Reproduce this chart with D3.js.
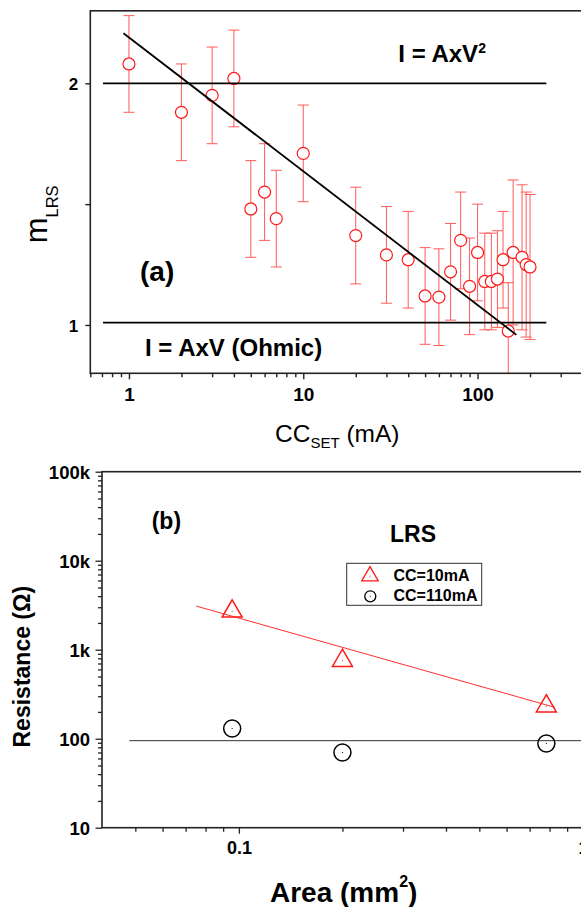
<!DOCTYPE html>
<html>
<head>
<meta charset="utf-8">
<script src="https://cdn.jsdelivr.net/npm/d3@7"></script>
<style>
  html, body { margin: 0; padding: 0; background: #fff; }
  svg { display: block; font-family: Arial, "Liberation Sans", sans-serif; }
</style>
</head>
<body>
<script>
// ---------- Panel (a) data ----------
const ccSet = [1, 2, 3, 4, 5, 6, 7, 10, 20, 30, 40, 50, 60, 70, 80, 90, 100, 110, 120, 130, 140, 150, 160, 180, 190, 200];
const mLRS  = [2.08, 1.88, 1.95, 2.02, 1.48, 1.55, 1.44, 1.71, 1.37, 1.29, 1.27, 1.12, 1.115, 1.22, 1.35, 1.16, 1.30, 1.18, 1.18, 1.19, 1.27, 0.975, 1.30, 1.28, 1.25, 1.24];
const mErr  = [0.2, 0.2, 0.2, 0.2, 0.2, 0.2, 0.2, 0.2, 0.2, 0.2, 0.2, 0.2, 0.2, 0.2, 0.2, 0.2, 0.2, 0.2, 0.2, 0.2, 0.2, 0.2, 0.3, 0.3, 0.3, 0.3];
const fitA  = [[0.93, 2.207], [167, 0.959]];
const refA  = [[[0.71, 2.0], [248, 2.0]], [[0.71, 1.01], [248, 1.01]]];
const xTicksAMajor = [1, 10, 100];
const xTicksAMinor = [0.6, 0.7, 0.8, 0.9, 2, 3, 4, 5, 6, 7, 8, 9, 20, 30, 40, 50, 60, 70, 80, 90, 200, 300, 400];
const yTicksA = [1, 1.5, 2];
const yTickLabelsA = ["1", "", "2"];

// ---------- Panel (b) data ----------
const area   = [0.0956, 0.2, 0.783];
const r10mA  = [2700, 752, 232];
const r110mA = [130, 70, 88.5];
const fit10  = [[0.0752, 3090], [0.829, 225]];
const fit110 = [[0.048, 95], [1.2, 95]];
const legendLabels = ["CC=10mA", "CC=110mA"];
const yTicksBMajor = [10, 100, 1000, 10000, 100000];
const yTickLabelsB = ["10", "100", "1k", "10k", "100k"];
const xTicksBMajor = [0.1, 1];
const xTickLabelsB = ["0.1", "1"];

const W = 581, H = 907;
const svg = d3.select("body").append("svg").attr("width", W).attr("height", H);
const AX = "#222";

function minorDecades(lo, hi) {
  const out = [];
  for (let p = lo; p < hi; p++) for (let k = 2; k <= 9; k++) out.push(k * Math.pow(10, p));
  return out;
}

// =================== Panel (a) ===================
const xA = d3.scaleLog().domain([0.6, 400]).range([90.3, 582.5]);
const yA = d3.scaleLinear().domain([0.8, 2.3]).range([373.3, 10.8]);
const gA = svg.append("g");

svg.append("clipPath").attr("id", "clipA").append("rect")
  .attr("x", xA.range()[0]).attr("y", yA.range()[1])
  .attr("width", xA.range()[1] - xA.range()[0]).attr("height", yA.range()[0] - yA.range()[1]);

const plotA = gA.append("g").attr("clip-path", "url(#clipA)");

// error bars
const ebColor = "#ff5a5a";
const eb = plotA.append("g").attr("stroke", ebColor).attr("stroke-width", 1);
ccSet.forEach((c, i) => {
  const x = xA(c), y1 = yA(mLRS[i] - mErr[i]), y2 = yA(mLRS[i] + mErr[i]);
  eb.append("line").attr("x1", x).attr("x2", x).attr("y1", y1).attr("y2", y2);
  eb.append("line").attr("x1", x - 5.5).attr("x2", x + 5.5).attr("y1", y1).attr("y2", y1);
  eb.append("line").attr("x1", x - 5.5).attr("x2", x + 5.5).attr("y1", y2).attr("y2", y2);
});
// circles
plotA.append("g").selectAll("circle").data(ccSet).join("circle")
  .attr("cx", d => xA(d)).attr("cy", (d, i) => yA(mLRS[i])).attr("r", 6)
  .attr("fill", "#fff").attr("stroke", "#ff1a1a").attr("stroke-width", 1.2);

// reference lines & fit
const lineA = d3.line().x(d => xA(d[0])).y(d => yA(d[1]));
refA.forEach(r => plotA.append("path").attr("d", lineA(r)).attr("stroke", "#000").attr("stroke-width", 1.8).attr("fill", "none"));
plotA.append("path").attr("d", lineA(fitA)).attr("stroke", "#000").attr("stroke-width", 1.8).attr("fill", "none");

// frame
gA.append("rect").attr("x", xA.range()[0]).attr("y", yA.range()[1])
  .attr("width", xA.range()[1] - xA.range()[0]).attr("height", yA.range()[0] - yA.range()[1])
  .attr("fill", "none").attr("stroke", AX).attr("stroke-width", 1.6);

// x axis (a)
const xAxisAMinor = gA.append("g").attr("transform", `translate(0,${yA.range()[0]})`)
  .call(d3.axisBottom(xA).tickValues(xTicksAMinor).tickSize(4).tickFormat(""));
const xAxisAMajor = gA.append("g").attr("transform", `translate(0,${yA.range()[0]})`)
  .call(d3.axisBottom(xA).tickValues(xTicksAMajor).tickSize(6).tickFormat(d3.format("~g")));
[xAxisAMinor, xAxisAMajor].forEach(g => {
  g.select(".domain").remove();
  g.selectAll("line").attr("stroke", AX).attr("stroke-width", 1.4);
});
xAxisAMajor.selectAll("text").attr("y", 27.4).attr("dy", null)
  .attr("font-size", 19).attr("font-weight", "bold").attr("fill", "#000").attr("font-family", null);

// y axis (a)
const yAxisA = gA.append("g").attr("transform", `translate(${xA.range()[0]},0)`)
  .call(d3.axisLeft(yA).tickValues(yTicksA).tickSize(5).tickFormat((d, i) => yTickLabelsA[i]));
yAxisA.select(".domain").remove();
yAxisA.selectAll("line").attr("stroke", AX).attr("stroke-width", 1.4);
yAxisA.selectAll("text").attr("x", -12).attr("dy", "0.36em")
  .attr("font-size", 17).attr("font-weight", "bold").attr("fill", "#000").attr("font-family", null);

// texts (a)
const tA1 = gA.append("text").attr("x", 398.3).attr("y", 61.7).attr("font-size", 24).attr("font-weight", "bold");
tA1.append("tspan").text("I = AxV");
tA1.append("tspan").attr("font-size", 14).attr("dy", -8.4).text("2");
gA.append("text").attr("x", 145).attr("y", 356).attr("font-size", 24).attr("font-weight", "bold").text("I = AxV (Ohmic)");
gA.append("text").attr("x", 140).attr("y", 281).attr("font-size", 28).attr("font-weight", "bold").text("(a)");

// axis labels (a)
const ylA = gA.append("text").attr("transform", "translate(46.7,243.3) rotate(-90)").attr("font-size", 31);
ylA.append("tspan").text("m");
ylA.append("tspan").attr("font-size", 16.5).attr("dy", 11.6).text("LRS");
const xlA = gA.append("text").attr("x", 275).attr("y", 441.7).attr("font-size", 24.5);
xlA.append("tspan").text("CC");
xlA.append("tspan").attr("font-size", 15).attr("dy", 6.6).text("SET");
xlA.append("tspan").attr("dy", -6.6).text(" (mA)");

// =================== Panel (b) ===================
const xB = d3.scaleLog().domain([0.04, 1.2]).range([102, 102 + 344 * Math.log10(30)]);
const yB = d3.scaleLog().domain([10, 100000]).range([827.7, 471.7]);
const gB = svg.append("g");

svg.append("clipPath").attr("id", "clipB").append("rect")
  .attr("x", xB.range()[0]).attr("y", yB.range()[1])
  .attr("width", xB.range()[1] - xB.range()[0]).attr("height", yB.range()[0] - yB.range()[1]);
const plotB = gB.append("g").attr("clip-path", "url(#clipB)");

const lineB = d3.line().x(d => xB(d[0])).y(d => yB(d[1]));
plotB.append("path").attr("d", lineB(fit10)).attr("stroke", "#ff3030").attr("stroke-width", 1).attr("fill", "none");
plotB.append("path").attr("d", lineB(fit110)).attr("stroke", "#333").attr("stroke-width", 1).attr("fill", "none");

const tri = d3.symbol().type(d3.symbolTriangle).size(173);
plotB.append("g").selectAll("path").data(area).join("path")
  .attr("transform", (d, i) => `translate(${xB(d)},${yB(r10mA[i])})`)
  .attr("d", tri).attr("fill", "none").attr("stroke", "#ff1a1a").attr("stroke-width", 1.5);
plotB.append("g").selectAll("circle").data(area).join("circle")
  .attr("cx", d => xB(d)).attr("cy", (d, i) => yB(r110mA[i])).attr("r", 8.5)
  .attr("fill", "none").attr("stroke", "#000").attr("stroke-width", 1.5);
// center dots
plotB.append("g").selectAll("rect").data(area.concat(area)).join("rect")
  .attr("x", d => xB(d) - 0.5)
  .attr("y", (d, i) => (i < area.length ? yB(r10mA[i]) : yB(r110mA[i - area.length])) - 0.5)
  .attr("width", 1).attr("height", 1)
  .attr("fill", (d, i) => i < area.length ? "#ff1a1a" : "#000");

// frame
gB.append("rect").attr("x", xB.range()[0]).attr("y", yB.range()[1])
  .attr("width", xB.range()[1] - xB.range()[0]).attr("height", yB.range()[0] - yB.range()[1])
  .attr("fill", "none").attr("stroke", AX).attr("stroke-width", 1.6);

// y axis (b)
const yAxisBMinor = gB.append("g").attr("transform", `translate(${xB.range()[0]},0)`)
  .call(d3.axisLeft(yB).tickValues(minorDecades(1, 5)).tickSize(4).tickFormat(""));
const yAxisBMajor = gB.append("g").attr("transform", `translate(${xB.range()[0]},0)`)
  .call(d3.axisLeft(yB).tickValues(yTicksBMajor).tickSize(6.5).tickFormat((d, i) => yTickLabelsB[i]));
[yAxisBMinor, yAxisBMajor].forEach(g => {
  g.select(".domain").remove();
  g.selectAll("line").attr("stroke", AX).attr("stroke-width", 1.3);
});
yAxisBMajor.selectAll("text").attr("x", -12).attr("dy", "0.36em")
  .attr("font-size", 18.5).attr("font-weight", "bold").attr("fill", "#000").attr("font-family", null);

// x axis (b)
const xAxisBMinor = gB.append("g").attr("transform", `translate(0,${yB.range()[0]})`)
  .call(d3.axisBottom(xB).tickValues([0.05, 0.06, 0.07, 0.08, 0.09, 0.2, 0.3, 0.4, 0.5, 0.6, 0.7, 0.8, 0.9]).tickSize(4).tickFormat(""));
const xAxisBMajor = gB.append("g").attr("transform", `translate(0,${yB.range()[0]})`)
  .call(d3.axisBottom(xB).tickValues(xTicksBMajor).tickSize(6).tickFormat((d, i) => xTickLabelsB[i]));
[xAxisBMinor, xAxisBMajor].forEach(g => {
  g.select(".domain").remove();
  g.selectAll("line").attr("stroke", AX).attr("stroke-width", 1.3);
});
xAxisBMajor.selectAll("text").attr("y", 26.5).attr("dy", null)
  .attr("font-size", 18).attr("font-weight", "bold").attr("fill", "#000").attr("font-family", null);

// texts (b)
gB.append("text").attr("x", 151.7).attr("y", 529).attr("font-size", 23).attr("font-weight", "bold").text("(b)");
gB.append("text").attr("x", 390).attr("y", 541.7).attr("font-size", 23).attr("font-weight", "bold").text("LRS");

// legend
const lg = gB.append("g");
lg.append("rect").attr("x", 346.7).attr("y", 563.3).attr("width", 135).attr("height", 42)
  .attr("fill", "#fff").attr("stroke", "#333").attr("stroke-width", 1);
lg.append("path").attr("transform", "translate(370,576.2)")
  .attr("d", d3.symbol().type(d3.symbolTriangle).size(118)).attr("fill", "none").attr("stroke", "#ff1a1a").attr("stroke-width", 1.3);
lg.append("rect").attr("x", 369.5).attr("y", 575.7).attr("width", 1).attr("height", 1).attr("fill", "#ff1a1a");
lg.append("circle").attr("cx", 370.3).attr("cy", 596.3).attr("r", 5.5).attr("fill", "none").attr("stroke", "#000").attr("stroke-width", 1.3);
lg.append("rect").attr("x", 369.8).attr("y", 595.8).attr("width", 1).attr("height", 1).attr("fill", "#000");
lg.selectAll("text.lab").data(legendLabels).join("text").attr("class", "lab")
  .attr("x", 393.5).attr("y", (d, i) => i === 0 ? 581 : 601)
  .attr("font-size", 16).attr("font-weight", "bold").text(d => d);

// axis labels (b)
gB.append("text").attr("transform", "translate(30,666.7) rotate(-90)").attr("text-anchor", "middle")
  .attr("font-size", 23).attr("font-weight", "bold").text("Resistance (\u03A9)");
const xlB = gB.append("text").attr("x", 270).attr("y", 901.7).attr("font-size", 28).attr("font-weight", "bold");
xlB.append("tspan").text("Area (mm");
xlB.append("tspan").attr("font-size", 16).attr("dy", -15).text("2");
xlB.append("tspan").attr("dy", 15).text(")");
</script>
</body>
</html>
